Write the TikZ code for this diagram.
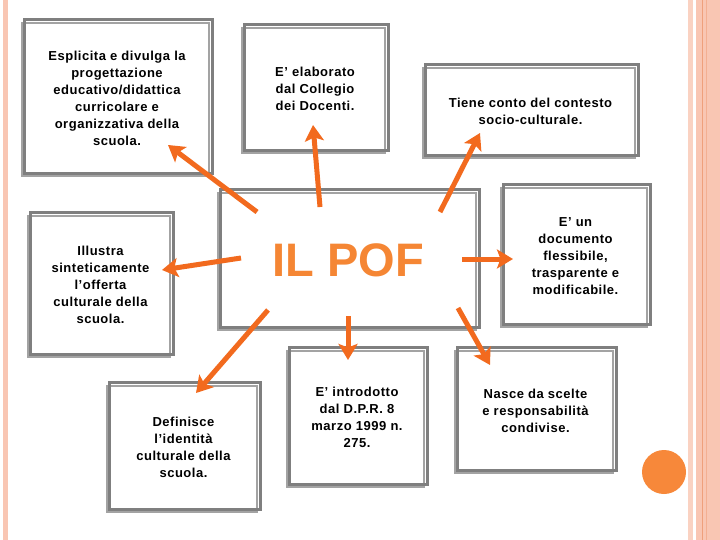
\documentclass[tikz,border=0pt]{standalone}
\usepackage{fontspec}
\setmainfont{Liberation Sans}
\newfontfamily\bx[LetterSpace=4]{Liberation Sans}
\usetikzlibrary{arrows.meta}
\definecolor{arrorange}{HTML}{F26A1E}
\definecolor{poforange}{HTML}{F58634}
\definecolor{circorange}{HTML}{F7883A}
\definecolor{pinkA}{HTML}{F9C6B3}
\definecolor{pinkB}{HTML}{FAD2C2}
\definecolor{pinkLine}{HTML}{EFA07C}
\definecolor{frameDark}{HTML}{7F7F7F}
\definecolor{frameLight}{HTML}{A3A3A3}
\tikzset{
  boxnode/.style={inner sep=0pt, align=center, font=\bx\bfseries\fontsize{13}{17}\selectfont},
  darkframe/.style={draw=frameDark, line width=3pt},
  lightframe/.style={draw=frameLight, line width=2pt},
  arr/.style={draw=arrorange, line width=5pt, -{Stealth[length=16pt,width=19pt,inset=3.5pt]}}
}
\newcommand{\frm}[1]{%
  \draw[lightframe] ([yshift=-3pt]#1.north west) rectangle ([xshift=-3pt]#1.south east);
  \draw[darkframe] ([xshift=3pt]#1.north west) rectangle ([yshift=3pt]#1.south east);}
\begin{document}
\begin{tikzpicture}[x=1pt,y=-1pt]
\useasboundingbox (0,0) rectangle (720,540);
\fill[white] (0,0) rectangle (720,540);
% side decorations
\fill[pinkA] (3,0) rectangle (8,540);
\fill[pinkB] (688,0) rectangle (693,540);
\fill[pinkA] (696,0) rectangle (720,540);
\draw[pinkLine, line width=1pt] (702.5,0) -- (702.5,540);
\draw[pinkLine!60!pinkA, line width=1pt] (706,0) -- (706,540);
% boxes
\node[boxnode, minimum width=190pt, minimum height=156pt] (b1) at (117,98)
  {Esplicita e divulga la\\progettazione\\educativo/didattica\\curricolare e\\organizzativa della\\scuola.};
\node[boxnode, minimum width=146pt, minimum height=128pt] (b2) at (315,89)
  {E’ elaborato\\dal Collegio\\dei Docenti.};
\node[boxnode, minimum width=215pt, minimum height=93pt] (b3) at (530.5,111.5)
  {Tiene conto del contesto\\socio-culturale.};
\node[inner sep=0pt, minimum width=261pt, minimum height=140pt, text=poforange,
  font=\bfseries\fontsize{47}{50}\selectfont] (pof) at (348.5,260) {IL POF};
\node[boxnode, minimum width=145pt, minimum height=144pt] (b4) at (100.5,285)
  {Illustra\\sinteticamente\\l’offerta\\culturale della\\scuola.};
\node[boxnode, minimum width=149pt, minimum height=142pt] (b5) at (575.5,256)
  {E’ un\\documento\\flessibile,\\trasparente e\\modificabile.};
\node[boxnode, minimum width=153pt, minimum height=129pt] (b6) at (183.5,447.5)
  {Definisce\\l’identità\\culturale della\\scuola.};
\node[boxnode, minimum width=140pt, minimum height=139pt] (b7) at (357,417.5)
  {E’ introdotto\\dal D.P.R. 8\\marzo 1999 n.\\275.};
\node[boxnode, minimum width=161pt, minimum height=125pt] (b8) at (535.5,410.5)
  {Nasce da scelte\\e responsabilità\\condivise.};
\frm{b1}\frm{b2}\frm{b3}\frm{pof}\frm{b4}\frm{b5}\frm{b6}\frm{b7}\frm{b8}
% circle
\node[circle, fill=circorange, minimum size=44pt, inner sep=0pt] (dot) at (664,472) {};
% arrow endpoints
\coordinate (a1s) at (257,212); \coordinate (a1e) at (168,145);
\coordinate (a2s) at (320,207); \coordinate (a2e) at (313,125);
\coordinate (a3s) at (440,212); \coordinate (a3e) at (480,133);
\coordinate (a4s) at (241,258); \coordinate (a4e) at (162,270);
\coordinate (a5s) at (462,259); \coordinate (a5e) at (513,259);
\coordinate (a6s) at (268,310); \coordinate (a6e) at (196,393);
\coordinate (a7s) at (348,316); \coordinate (a7e) at (348,360);
\coordinate (a8s) at (458,308); \coordinate (a8e) at (490,365);
\foreach \i in {1,...,8} { \draw[arr] (a\i s) -- (a\i e); }
\end{tikzpicture}
\end{document}
